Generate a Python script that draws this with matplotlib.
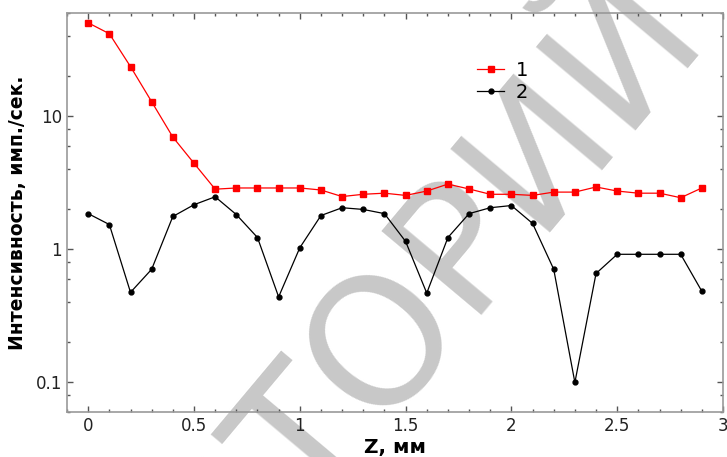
import numpy as np
import matplotlib.pyplot as plt

# Z, mm
z = [0.0, 0.1, 0.2, 0.3, 0.4, 0.5, 0.6, 0.7, 0.8, 0.9,
     1.0, 1.1, 1.2, 1.3, 1.4, 1.5, 1.6, 1.7, 1.8, 1.9,
     2.0, 2.1, 2.2, 2.3, 2.4, 2.5, 2.6, 2.7, 2.8, 2.9]

# curve 1 (red squares)
curve1 = [50.6, 41.9, 23.7, 12.9, 7.0, 4.45, 2.84, 2.9, 2.9, 2.9,
          2.9, 2.8, 2.5, 2.6, 2.65, 2.55, 2.75, 3.1, 2.85, 2.6,
          2.6, 2.55, 2.7, 2.7, 2.95, 2.75, 2.65, 2.65, 2.45, 2.9]

# curve 2 (black dots)
curve2 = [1.86, 1.54, 0.476, 0.71, 1.77, 2.17, 2.49, 1.83, 1.23, 0.44,
          1.03, 1.8, 2.06, 2.0, 1.86, 1.15, 0.47, 1.23, 1.86, 2.06,
          2.14, 1.57, 0.71, 0.1, 0.66, 0.92, 0.92, 0.92, 0.92, 0.485]

labels = ['1', '2']

fig = plt.figure(figsize=(7.27, 4.57), dpi=100)
ax = fig.add_axes([0.0922, 0.0985, 0.9023, 0.8731])
ax.set_facecolor('none')

# watermark, anchored at the baseline-left corner of "Т"
wm = dict(fontsize=128, color='#c8c8c8', rotation=50, rotation_mode='anchor',
          va='baseline', zorder=-5)
fig.text(0.428, -0.133, 'ТОРИЙ', ha='left', **wm)
fig.text(0.428, -0.133, 'ЗИ', ha='right', **wm)

ax.plot(z, curve1, color='red', lw=0.9, marker='s', ms=4.5, label=labels[0])
ax.plot(z, curve2, color='black', lw=0.9, marker='o', ms=3.5, label=labels[1])

ax.set_yscale('log')
ax.set_xlim(-0.1, 3.0)
ax.set_ylim(0.06, 60)
ax.set_xticks([0, 0.5, 1, 1.5, 2, 2.5, 3])
ax.set_xticklabels(['0', '0.5', '1', '1.5', '2', '2.5', '3'])
ax.set_xticks(np.arange(-0.1, 3.01, 0.1), minor=True)
ax.set_yticks([0.1, 1, 10])
ax.set_yticklabels(['0.1', '1', '10'])
ax.yaxis.set_minor_locator(plt.matplotlib.ticker.LogLocator(base=10, subs=[2, 4, 6, 8]))
ax.yaxis.set_minor_formatter(plt.NullFormatter())

for s in ax.spines.values():
    s.set_color('#999999')
    s.set_linewidth(1.2)
ax.tick_params(which='both', direction='in', top=True, right=True, color='#555555',
               labelcolor='#222222', labelsize=12)
ax.tick_params(which='major', length=4, width=1)
ax.tick_params(which='minor', length=2.5, width=1)

ax.set_xlabel('Z, мм', fontsize=14.5, fontweight='bold', labelpad=2)
ax.set_ylabel('Интенсивность, имп./сек.', fontsize=13.5, fontweight='bold', labelpad=6)

ax.legend(loc='upper left', bbox_to_anchor=(0.61, 0.905), frameon=False, fontsize=14,
          handlelength=1.4, handletextpad=0.6, labelspacing=0.15, borderpad=0)

fig.savefig('out.png', dpi=100)
